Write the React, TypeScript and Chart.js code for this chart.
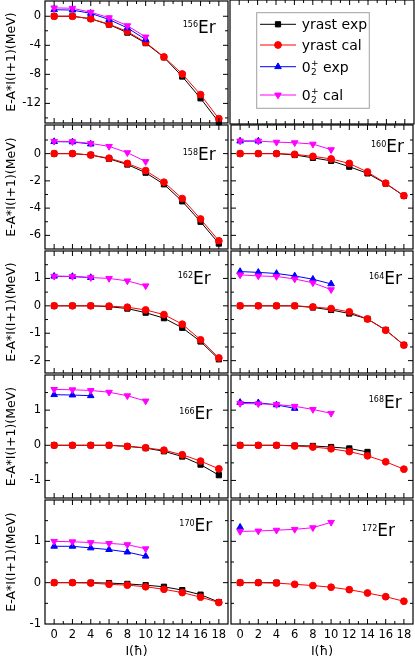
import React, { useEffect, useRef } from 'react';
import { Chart, registerables } from 'chart.js';

Chart.register(...registerables);

const FONT = "'DejaVu Sans', 'Liberation Sans', sans-serif";
Chart.defaults.font.family = FONT;
Chart.defaults.color = '#000';

// ---------- data ----------
const spins = [0, 2, 4, 6, 8, 10, 12, 14, 16, 18];

const yrastExp156 = [0, 0, -0.35, -1.15, -2.25, -3.7, -5.65, -8.3, -11.3, -14.6];
const yrastCal156 = [0, 0, -0.35, -1.1, -2.1, -3.6, -5.6, -7.95, -10.8, -14.1];
const exp02_156 = [0.9, 0.85, 0.4, -0.45, -1.6, -3.2];
const cal02_156 = [1.15, 1.1, 0.55, -0.2, -1.3, -2.85];

const yrastExp158 = [0, 0, -0.1, -0.38, -0.8, -1.4, -2.25, -3.5, -5.0, -6.6];
const yrastCal158 = [0, 0, -0.1, -0.34, -0.72, -1.25, -2.1, -3.3, -4.8, -6.4];
const exp02_158 = [0.88, 0.86, 0.7];
const cal02_158 = [0.9, 0.88, 0.75, 0.53, 0.07, -0.58];

const yrastExp160 = [0, 0, 0, -0.1, -0.31, -0.53, -0.96, -1.45, -2.2, -3.1];
const yrastCal160 = [0, 0, 0, -0.05, -0.2, -0.39, -0.72, -1.35, -2.17, -3.09];
const exp02_160 = [0.92, 0.92];
const cal02_160 = [0.93, 0.92, 0.84, 0.8, 0.7, 0.29];

const yrastExp162 = [0, 0, 0, -0.03, -0.1, -0.25, -0.45, -0.8, -1.3, -1.95];
const yrastCal162 = [0, 0, 0, -0.01, -0.05, -0.15, -0.32, -0.67, -1.24, -1.9];
const exp02_162 = [1.08, 1.07, 1.03];
const cal02_162 = [1.08, 1.07, 1.03, 1.0, 0.91, 0.73];

const yrastExp164 = [0, 0, 0, 0, -0.06, -0.15, -0.28, -0.48, -0.88, -1.43];
const yrastCal164 = [0, 0, 0, 0, -0.04, -0.1, -0.22, -0.48, -0.89, -1.43];
const exp02_164 = [1.25, 1.22, 1.18, 1.09, 0.97, 0.8];
const cal02_164 = [1.13, 1.09, 1.07, 0.98, 0.84, 0.59];

const yrastExp166 = [0, 0, 0, 0, -0.03, -0.08, -0.17, -0.32, -0.55, -0.85];
const yrastCal166 = [0, 0, 0, 0, -0.03, -0.07, -0.14, -0.27, -0.45, -0.67];
const exp02_166 = [1.44, 1.43, 1.41];
const cal02_166 = [1.59, 1.58, 1.56, 1.51, 1.41, 1.26];

const yrastExp168 = [0, 0, 0, -0.01, -0.02, -0.05, -0.09, -0.19];
const yrastCal168 = [0, 0, 0, -0.02, -0.05, -0.1, -0.18, -0.3, -0.47, -0.68];
const exp02_168 = [1.22, 1.21, 1.15, 1.05];
const cal02_168 = [1.19, 1.18, 1.16, 1.11, 1.02, 0.91];

const yrastExp170 = [0, 0, 0, -0.01, -0.03, -0.06, -0.1, -0.18, -0.29, -0.47];
const yrastCal170 = [0, 0, -0.01, -0.04, -0.06, -0.1, -0.16, -0.24, -0.35, -0.48];
const exp02_170 = [0.88, 0.88, 0.84, 0.8, 0.74, 0.64];
const cal02_170 = [1.0, 0.99, 0.97, 0.95, 0.92, 0.82];

const yrastExp172 = [0, 0, 0];
const yrastCal172 = [0, 0, -0.01, -0.04, -0.07, -0.11, -0.17, -0.25, -0.34, -0.45];
const exp02_172 = [1.34];
const cal02_172 = [1.24, 1.25, 1.27, 1.29, 1.33, 1.46];

// axis ticks
const xLabels = [0, 2, 4, 6, 8, 10, 12, 14, 16, 18];
const xMinor = [1, 3, 5, 7, 9, 11, 13, 15, 17];
const rowYMin = [-14.7, -7, -2.45, -1.5, -1];
const rowYMax = [2.1, 2.1, 2, 2, 2];
const rowYLabels = [[0, -4, -8, -12], [0, -2, -4, -6], [1, 0, -1, -2], [1, 0, -1], [1, 0, -1]];
const rowYMinor = [[2, -2, -6, -10, -14], [1, -1, -3, -5], [1.5, 0.5, -0.5, -1.5], [1.5, 0.5, -0.5], [1.5, 0.5, -0.5]];

const seriesNames = ['yrast exp', 'yrast cal', '0_2^+ exp', '0_2^+ cal'];
const yTitle = 'E-A*I(I+1)(MeV)';
const xTitle = 'I(ħ)';

// ---------- styles ----------
const seriesColors = ['#000000', '#ff0000', '#0000ff', '#ff00ff'];
const seriesPoint = ['rect', 'circle', 'triangle', 'triangle'];
const seriesRadius = [3.7, 3.4, 3.8, 3.8];
const seriesRotation = [0, 0, 0, 180];
const seriesOrder = [4, 3, 2, 1];

// ---------- layout ----------
const COL_L = [45, 230];
const COL_R = [229, 414];
const ROW_T = [0, 124, 250, 374, 499];
const ROW_B = [124, 250, 374, 499, 624];
const PAD = 4;
const X_AXIS_H = 36;

type PanelSpec = {
  key: string;
  mass: string;
  col: number;
  row: number;
  series: number[][] | null;
  labelDx: number;
  labelDy: number;
};

const panels: PanelSpec[] = [
  { key: 'p156', mass: '156', col: 0, row: 0, series: [yrastExp156, yrastCal156, exp02_156, cal02_156], labelDx: 12.3, labelDy: 31.7 },
  { key: 'legend', mass: '', col: 1, row: 0, series: null, labelDx: 0, labelDy: 0 },
  { key: 'p158', mass: '158', col: 0, row: 1, series: [yrastExp158, yrastCal158, exp02_158, cal02_158], labelDx: 12.3, labelDy: 35.3 },
  { key: 'p160', mass: '160', col: 1, row: 1, series: [yrastExp160, yrastCal160, exp02_160, cal02_160], labelDx: 9, labelDy: 27 },
  { key: 'p162', mass: '162', col: 0, row: 2, series: [yrastExp162, yrastCal162, exp02_162, cal02_162], labelDx: 17.3, labelDy: 32.7 },
  { key: 'p164', mass: '164', col: 1, row: 2, series: [yrastExp164, yrastCal164, exp02_164, cal02_164], labelDx: 11, labelDy: 33.3 },
  { key: 'p166', mass: '166', col: 0, row: 3, series: [yrastExp166, yrastCal166, exp02_166, cal02_166], labelDx: 15.7, labelDy: 44.3 },
  { key: 'p168', mass: '168', col: 1, row: 3, series: [yrastExp168, yrastCal168, exp02_168, cal02_168], labelDx: 11.3, labelDy: 32.7 },
  { key: 'p170', mass: '170', col: 0, row: 4, series: [yrastExp170, yrastCal170, exp02_170, cal02_170], labelDx: 15.7, labelDy: 31 },
  { key: 'p172', mass: '172', col: 1, row: 4, series: [yrastExp172, yrastCal172, exp02_172, cal02_172], labelDx: 18, labelDy: 36 },
];

// ---------- helpers ----------
function drawMarker(ctx: CanvasRenderingContext2D, idx: number, x: number, y: number) {
  ctx.fillStyle = seriesColors[idx];
  ctx.strokeStyle = seriesColors[idx];
  ctx.lineWidth = 1;
  const r = seriesRadius[idx];
  ctx.beginPath();
  if (seriesPoint[idx] === 'rect') {
    const s = r * Math.SQRT2;
    ctx.rect(x - s / 2, y - s / 2, s, s);
  } else if (seriesPoint[idx] === 'circle') {
    ctx.arc(x, y, r, 0, Math.PI * 2);
  } else {
    const dir = seriesRotation[idx] === 180 ? -1 : 1;
    ctx.moveTo(x, y - dir * r);
    ctx.lineTo(x - r * 0.866, y + dir * r / 2);
    ctx.lineTo(x + r * 0.866, y + dir * r / 2);
    ctx.closePath();
  }
  ctx.fill();
  ctx.stroke();
}

function drawLegendText(ctx: CanvasRenderingContext2D, text: string, x: number, cy: number) {
  ctx.fillStyle = '#000';
  ctx.textAlign = 'left';
  ctx.textBaseline = 'alphabetic';
  const base = cy + 5;
  ctx.font = `14px ${FONT}`;
  if (text.startsWith('0_2^+')) {
    const rest = text.slice(5);
    ctx.fillText('0', x, base);
    const w0 = ctx.measureText('0').width;
    ctx.font = `9px ${FONT}`;
    ctx.fillText('+', x + w0 + 0.5, base - 6);
    ctx.fillText('2', x + w0 + 0.5, base + 3);
    const ws = Math.max(ctx.measureText('+').width, ctx.measureText('2').width);
    ctx.font = `14px ${FONT}`;
    ctx.fillText(rest, x + w0 + ws + 0.5, base);
  } else {
    ctx.fillText(text, x, base);
  }
}

const framePlugin = {
  id: 'frame',
  afterDraw(chart: any, _args: any, opts: any) {
    const { ctx, chartArea: a, scales } = chart;
    const xs = scales.x;
    const ys = scales.y;
    ctx.save();
    ctx.strokeStyle = '#000';
    ctx.lineWidth = 1.2;
    ctx.strokeRect(a.left, a.top, a.right - a.left, a.bottom - a.top);
    ctx.lineWidth = 1;
    const tx = (vals: number[], len: number) => {
      vals.forEach((v) => {
        const p = xs.getPixelForValue(v);
        ctx.beginPath();
        ctx.moveTo(p, a.bottom);
        ctx.lineTo(p, a.bottom - len);
        ctx.moveTo(p, a.top);
        ctx.lineTo(p, a.top + len);
        ctx.stroke();
      });
    };
    const ty = (vals: number[], len: number) => {
      vals.forEach((v) => {
        const p = ys.getPixelForValue(v);
        if (p <= a.top + 1 || p >= a.bottom - 1) return;
        ctx.beginPath();
        ctx.moveTo(a.left, p);
        ctx.lineTo(a.left + len, p);
        ctx.moveTo(a.right, p);
        ctx.lineTo(a.right - len, p);
        ctx.stroke();
      });
    };
    tx(opts.xMajor, 5);
    tx(opts.xMinor, 3);
    if (opts.showY) {
      ty(opts.yMajor, 5);
      ty(opts.yMinor, 3);
    }
    // isotope label
    if (opts.mass) {
      ctx.fillStyle = '#000';
      ctx.textBaseline = 'alphabetic';
      ctx.textAlign = 'right';
      ctx.font = `17px ${FONT}`;
      const xr = a.right - opts.labelDx;
      const yb = a.top + opts.labelDy;
      ctx.fillText('Er', xr, yb);
      const we = ctx.measureText('Er').width;
      ctx.font = `8px ${FONT}`;
      ctx.fillText(opts.mass, xr - we, yb - 5.5);
    }
    // legend box
    if (opts.legend) {
      const bx = a.left + 26.7;
      const by = a.top + 12.7;
      ctx.strokeStyle = '#a0a0a0';
      ctx.lineWidth = 1;
      ctx.strokeRect(bx, by, 112.6, 95.6);
      const rowsY = [24.3, 45, 66.7, 95];
      seriesNames.forEach((name, i) => {
        const cy = a.top + rowsY[i];
        ctx.strokeStyle = seriesColors[i];
        ctx.lineWidth = 1;
        ctx.beginPath();
        ctx.moveTo(a.left + 30, cy);
        ctx.lineTo(a.left + 66, cy);
        ctx.stroke();
        drawMarker(ctx, i, a.left + 48, cy);
        drawLegendText(ctx, name, a.left + 71.7, cy);
      });
    }
    ctx.restore();
  },
};

function fixScale(size: { width?: number; height?: number }) {
  return (scale: any) => {
    if (size.width !== undefined) scale.width = size.width;
    if (size.height !== undefined) scale.height = size.height;
    scale.paddingTop = 0;
    scale.paddingBottom = 0;
    scale.paddingLeft = 0;
    scale.paddingRight = 0;
  };
}

function Panel({ spec }: { spec: PanelSpec }) {
  const ref = useRef<HTMLCanvasElement>(null);
  const isLeft = spec.col === 0;
  const isBottom = spec.row === 4;
  const L = COL_L[spec.col];
  const R = COL_R[spec.col];
  const T = ROW_T[spec.row];
  const B = ROW_B[spec.row];
  const canvasLeft = isLeft ? 0 : L - PAD;
  const canvasTop = T - PAD;
  const width = (isLeft ? L : PAD) + (R - L) + PAD;
  const height = PAD + (B - T) + (isBottom ? X_AXIS_H : PAD);

  useEffect(() => {
    const datasets = (spec.series || [[], [], [], []]).map((ys, idx) => ({
      label: seriesNames[idx],
      data: ys.map((y, i) => ({ x: spins[i], y })),
      borderColor: seriesColors[idx],
      backgroundColor: seriesColors[idx],
      borderWidth: 1,
      pointStyle: seriesPoint[idx],
      pointRadius: seriesRadius[idx],
      pointRotation: seriesRotation[idx],
      pointBorderWidth: 1,
      pointBorderColor: seriesColors[idx],
      pointBackgroundColor: seriesColors[idx],
      order: seriesOrder[idx],
      clip: false,
      tension: 0,
    }));
    const row = spec.row;
    const chart = new Chart(ref.current as HTMLCanvasElement, {
      type: 'line',
      data: { datasets } as any,
      plugins: [framePlugin],
      options: {
        animation: false,
        responsive: false,
        devicePixelRatio: 1,
        events: [],
        layout: {
          padding: { left: isLeft ? 0 : PAD, right: PAD, top: PAD, bottom: isBottom ? 0 : PAD },
        },
        scales: {
          x: {
            type: 'linear',
            min: -1,
            max: 19,
            display: isBottom,
            grid: { display: false, drawTicks: false },
            border: { display: false },
            afterBuildTicks: (s: any) => {
              s.ticks = xLabels.map((v) => ({ value: v }));
            },
            afterFit: isBottom ? fixScale({ height: X_AXIS_H }) : undefined,
            ticks: {
              autoSkip: false,
              maxRotation: 0,
              padding: 4,
              font: { size: 11.5 },
              color: '#000',
              callback: (v: any) => String(v),
            },
            title: {
              display: true,
              text: xTitle,
              font: { size: 12.5 },
              color: '#000',
              padding: { top: 0, bottom: 1 },
            },
          },
          y: {
            type: 'linear',
            min: rowYMin[row],
            max: rowYMax[row],
            display: isLeft,
            grid: { display: false, drawTicks: false },
            border: { display: false },
            afterBuildTicks: (s: any) => {
              s.ticks = rowYLabels[row].map((v) => ({ value: v }));
            },
            afterFit: isLeft ? fixScale({ width: L }) : undefined,
            ticks: {
              padding: 4,
              font: { size: 11.5 },
              color: '#000',
              callback: (v: any) => String(v),
            },
            title: {
              display: true,
              text: yTitle,
              font: { size: 12.5 },
              color: '#000',
              padding: { top: 4, bottom: 0 },
            },
          },
        },
        plugins: {
          legend: { display: false },
          tooltip: { enabled: false },
          frame: {
            xMajor: xLabels,
            xMinor: xMinor,
            yMajor: rowYLabels[row],
            yMinor: rowYMinor[row],
            showY: spec.series !== null,
            mass: spec.mass,
            labelDx: spec.labelDx,
            labelDy: spec.labelDy,
            legend: spec.series === null,
          },
        } as any,
      } as any,
    });
    return () => chart.destroy();
  }, []);

  return (
    <canvas
      ref={ref}
      width={width}
      height={height}
      style={{ position: 'absolute', left: canvasLeft, top: canvasTop, width, height }}
    />
  );
}

export default function App() {
  return (
    <div
      style={{
        position: 'absolute',
        left: 0,
        top: 0,
        width: 415,
        height: 660,
        overflow: 'hidden',
        background: '#fff',
      }}
    >
      {panels.map((p) => (
        <Panel key={p.key} spec={p} />
      ))}
    </div>
  );
}
